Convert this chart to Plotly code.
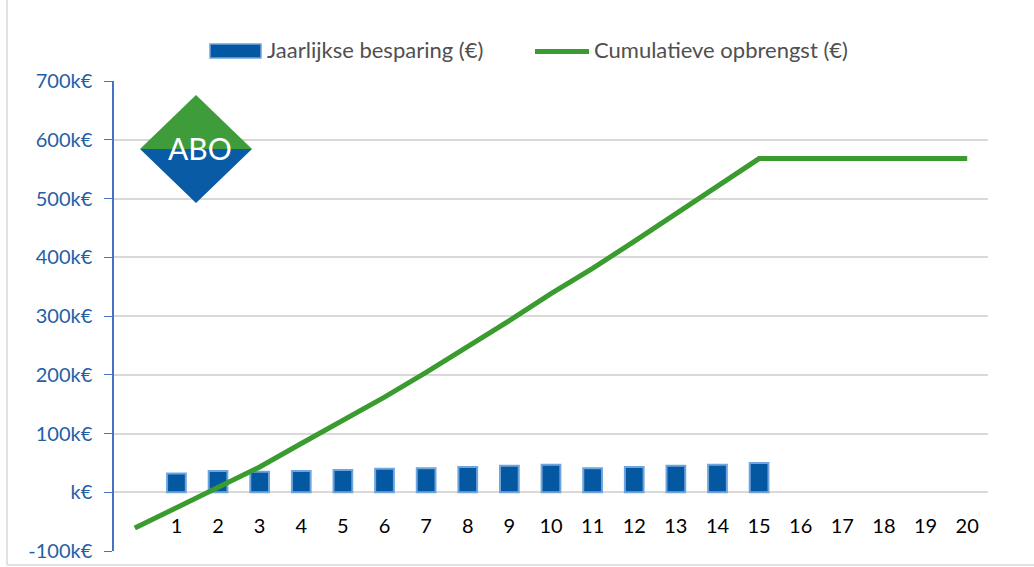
import plotly.graph_objects as go

# ---- data ----
bar_years = list(range(1, 16))
jaarlijkse_besparing = [32000, 36000, 35000, 36000, 38000, 40000, 41000, 43000,
                        45000, 47000, 41000, 43000, 45000, 47000, 50000]
line_years = list(range(0, 21))
cumulatieve_opbrengst = [-61000, -27000, 8000, 43000, 83000, 122000, 162000, 204000,
                         247000, 292000, 338000, 381000, 427000, 474000, 520000,
                         568000, 568000, 568000, 568000, 568000, 568000]
y_tickvals = [-100000, 0, 100000, 200000, 300000, 400000, 500000, 600000, 700000]
y_ticktext = ["-100k€", "k€", "100k€", "200k€", "300k€", "400k€", "500k€", "600k€", "700k€"]
x_tickvals = list(range(1, 21))
x_ticktext = [str(v) for v in x_tickvals]
series_names = ["Jaarlijkse besparing (€)", "Cumulatieve opbrengst (€)"]

W, H = 1034, 567
L, R, T, B = 114, 46, 81, 16
PW, PH = W - L - R, H - T - B

def px(x):
    return (x - L) / PW

def py(y):
    return (H - B - y) / PH

FONT = "Lato"
BAR_COLOR = "#0457A1"
BAR_EDGE = "#6FA5DC"
LINE_COLOR = "#3A9B2E"

fig = go.Figure()
fig.add_trace(go.Bar(
    x=bar_years, y=jaarlijkse_besparing, name=series_names[0], showlegend=False,
    width=0.45, marker=dict(color=BAR_COLOR, line=dict(color=BAR_EDGE, width=2)),
))
fig.add_trace(go.Scatter(
    x=line_years, y=cumulatieve_opbrengst, name=series_names[1], showlegend=False,
    mode="lines", line=dict(color=LINE_COLOR, width=5),
))

shapes = []
# chart frame lines
shapes.append(dict(type="line", xref="paper", yref="paper", x0=px(7), x1=px(7), y0=py(0), y1=py(565),
                   line=dict(color="#D9D9D9", width=1.5), layer="below"))
shapes.append(dict(type="line", xref="paper", yref="paper", x0=px(7), x1=px(1034), y0=py(565), y1=py(565),
                   line=dict(color="#D9D9D9", width=1.5), layer="below"))
# logo diamond
cx, cy, hw, hh = 196, 149, 56, 54
top = f"M {px(cx-hw)},{py(cy)} L {px(cx)},{py(cy-hh)} L {px(cx+hw)},{py(cy)} Z"
bot = f"M {px(cx-hw)},{py(cy)} L {px(cx)},{py(cy+hh)} L {px(cx+hw)},{py(cy)} Z"
shapes.append(dict(type="path", xref="paper", yref="paper", path=top, fillcolor="#3F9C3A", line=dict(width=0)))
shapes.append(dict(type="path", xref="paper", yref="paper", path=bot, fillcolor="#0A5BA5", line=dict(width=0)))
# legend symbols
shapes.append(dict(type="rect", xref="paper", yref="paper", x0=px(210), x1=px(261), y0=py(58), y1=py(44),
                   fillcolor=BAR_COLOR, line=dict(color=BAR_EDGE, width=1.5)))
shapes.append(dict(type="line", xref="paper", yref="paper", x0=px(535), x1=px(589), y0=py(51.5), y1=py(51.5),
                   line=dict(color=LINE_COLOR, width=5)))

annotations = [
    dict(text="ABO", xref="paper", yref="paper", x=px(200), y=py(148), showarrow=False,
         font=dict(family=FONT, size=30, color="white"), xanchor="center", yanchor="middle"),
    dict(text=series_names[0], xref="paper", yref="paper", x=px(265), y=py(50), showarrow=False,
         font=dict(family=FONT, size=22, color="#505050"), xanchor="left", yanchor="middle"),
    dict(text=series_names[1], xref="paper", yref="paper", x=px(592), y=py(50), showarrow=False,
         font=dict(family=FONT, size=22, color="#505050"), xanchor="left", yanchor="middle"),
]

fig.update_layout(
    width=W, height=H, margin=dict(l=L, r=R, t=T, b=B, autoexpand=False),
    paper_bgcolor="white", plot_bgcolor="white",
    font=dict(family=FONT, size=18, color="#000000"),
    showlegend=False,
    barmode="overlay",
    shapes=shapes,
    annotations=annotations,
    xaxis=dict(range=[-0.5, 20.5], tickvals=x_tickvals, ticktext=x_ticktext, showgrid=False,
               showline=False, zeroline=False, ticks="", anchor="free", position=py(512),
               automargin=False, tickfont=dict(size=20, color="#000000")),
    yaxis=dict(range=[-100000, 700000], tickvals=y_tickvals, ticktext=y_ticktext,
               showgrid=True, gridcolor="#D9D9D9", gridwidth=1.5, zeroline=False,
               showline=True, linecolor="#4472C4", linewidth=1.5, ticks="outside",
               ticklen=8, tickcolor="#4472C4", ticklabelstandoff=8, automargin=False,
               tickfont=dict(size=20, color="#1F5FA8")),
    hovermode=False,
)

fig.write_html("out.html")
